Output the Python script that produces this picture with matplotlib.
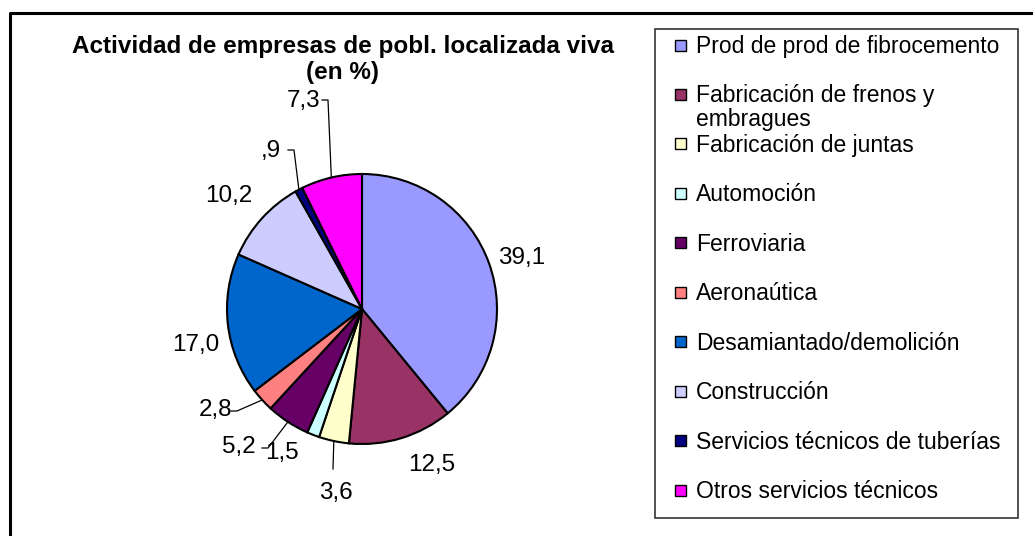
import numpy as np
import matplotlib.pyplot as plt
from matplotlib.patches import Rectangle

plt.rcParams['font.family'] = ['Liberation Sans', 'DejaVu Sans']

# Shares of each activity, in %
categories = ['Prod de prod de fibrocemento', 'Fabricación de frenos y\nembragues',
              'Fabricación de juntas', 'Automoción', 'Ferroviaria', 'Aeronaútica',
              'Desamiantado/demolición', 'Construcción',
              'Servicios técnicos de tuberías', 'Otros servicios técnicos']
values = [39.1, 12.5, 3.6, 1.5, 5.2, 2.8, 17.0, 10.2, 0.9, 7.3]
colors = ['#9999FF', '#993366', '#FFFFCC', '#CCFFFF', '#660066',
          '#FF8080', '#0066CC', '#CCCCFF', '#000080', '#FF00FF']

W, H = 1033, 536
fig = plt.figure(figsize=(W / 100, H / 100), dpi=100)
ax = fig.add_axes([0, 0, 1, 1])

def py(y):
    # pixel row (from top) to data y
    return H - y

cx, cy, r = 362, py(309), 135
wedges, _ = ax.pie(values, colors=colors, startangle=90, counterclock=False,
                   radius=r, center=(cx, cy), normalize=True,
                   wedgeprops=dict(edgecolor='black', linewidth=1.5))
ax.set_xlim(0, W)
ax.set_ylim(0, H)
ax.set_aspect('equal')
ax.axis('off')

def fmt(v):
    s = f'{v:.1f}'.replace('.', ',')
    return s[1:] if s.startswith('0') else s

# label centres (pixels) and optional leader elbow for each slice
label_pos = [(522, 258), (432, 465), (336, 493), (282, 453), (239, 447),
             (215, 410), (196, 345), (229, 196), (271, 151), (304, 101)]
leaders = {2: [(333, 469)],
           4: [(268, 448), (262, 448)],
           5: [(237, 411), (231, 411)],
           8: [(294, 150), (288, 150)],
           9: [(328, 100), (322, 100)]}

for i, (w, v) in enumerate(zip(wedges, values)):
    lx, ly = label_pos[i]
    ax.text(lx, py(ly), fmt(v), fontsize=17.5, ha='center', va='center')
    if i in leaders:
        mid = np.deg2rad((w.theta1 + w.theta2) / 2)
        ex, ey = cx + r * np.cos(mid), cy + r * np.sin(mid)
        xs = [ex] + [p[0] for p in leaders[i]]
        ys = [ey] + [py(p[1]) for p in leaders[i]]
        ax.plot(xs, ys, color='black', lw=0.9)

ax.text(343, py(47), 'Actividad de empresas de pobl. localizada viva',
        fontsize=17.5, fontweight='bold', ha='center', va='center')
ax.text(343, py(73), '(en %)', fontsize=17.5, fontweight='bold',
        ha='center', va='center')

# outer chart frame
ax.plot([9.5, 9.5, W], [0, py(12.5), py(12.5)], color='black', lw=2.2)

# legend box
ax.add_patch(Rectangle((655, py(518)), 1018 - 655, 518 - 29, facecolor='white',
                       edgecolor='#333333', lw=1.2))
ys_leg = np.linspace(45, 490, len(categories))
for name, c, y in zip(categories, colors, ys_leg):
    ax.add_patch(Rectangle((675, py(y) - 5.5), 11, 11, facecolor=c,
                           edgecolor='black', lw=1.0))
    for k, line in enumerate(name.split('\n')):
        ax.text(696, py(y + 8 + 24 * k), line, fontsize=16.5, ha='left',
                va='baseline')

fig.savefig('out.png', dpi=100)
